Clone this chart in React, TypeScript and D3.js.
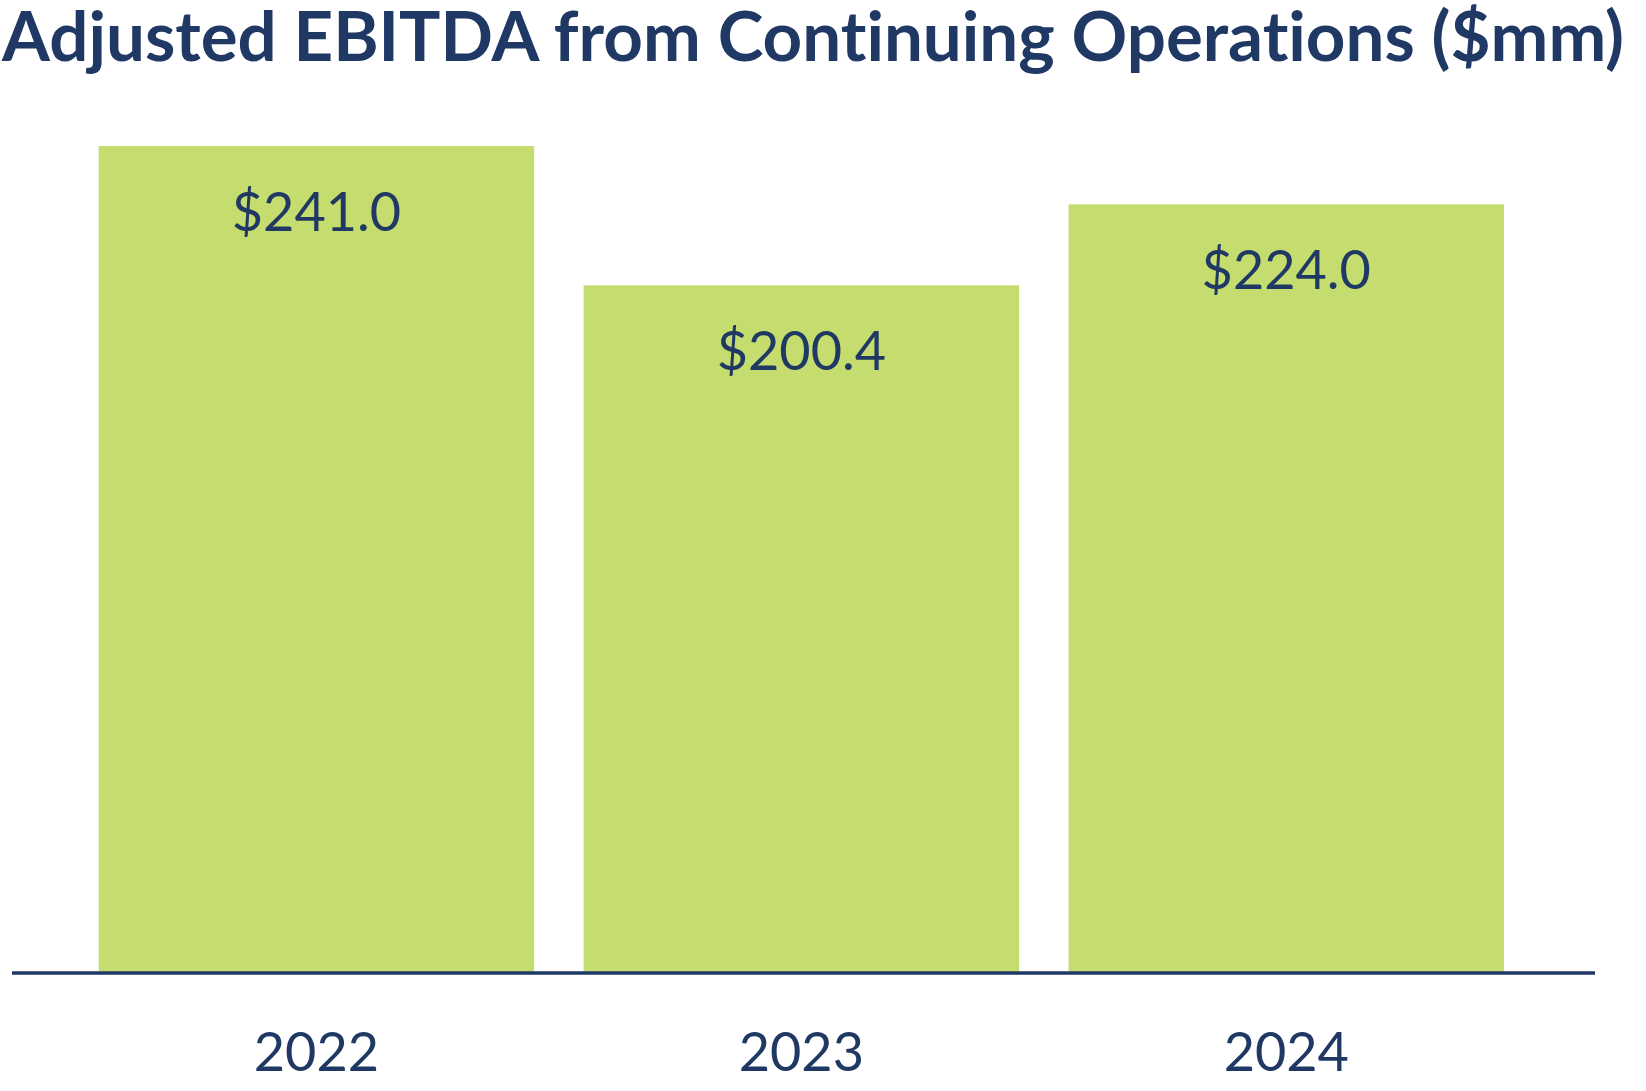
import React, { useEffect, useRef } from 'react';
import * as d3 from 'd3';

const categories = ['2022', '2023', '2024'];
const values = [241.0, 200.4, 224.0];
const valueLabels = ['$241.0', '$200.4', '$224.0'];
const title = 'Adjusted EBITDA from Continuing Operations ($mm)';

const WIDTH = 1646;
const HEIGHT = 1091;
const NAVY = '#1F3864';
const GREEN = '#C5DC6F';
const FONT = 'Lato, "Open Sans", sans-serif';

export default function App() {
  const svgRef = useRef<SVGSVGElement>(null);

  useEffect(() => {
    if (!svgRef.current) return;
    const svg = d3.select(svgRef.current);
    svg.selectAll('*').remove();

    const baseline = 973;

    const x = d3.scaleBand<string>()
      .domain(categories)
      .range([98.7, 1504])
      .paddingInner(0.102)
      .paddingOuter(0);

    const y = d3.scaleLinear()
      .domain([0, 241])
      .range([baseline, 146]);

    // title
    svg.append('text')
      .attr('x', 2)
      .attr('y', 61)
      .attr('textLength', 1622)
      .attr('lengthAdjust', 'spacingAndGlyphs')
      .style('font-family', FONT)
      .style('font-weight', 'bold')
      .style('font-size', '68px')
      .style('font-variant-ligatures', 'none')
      .style('fill', NAVY)
      .text(title);

    // bars
    svg.append('g')
      .selectAll('rect')
      .data(values)
      .join('rect')
      .attr('x', (_, i) => x(categories[i])!)
      .attr('y', d => y(d))
      .attr('width', x.bandwidth())
      .attr('height', d => baseline - y(d))
      .attr('fill', GREEN);

    // value labels inside bars
    svg.append('g')
      .selectAll('text')
      .data(values)
      .join('text')
      .attr('x', (_, i) => x(categories[i])! + x.bandwidth() / 2)
      .attr('y', d => y(d) + 85)
      .attr('text-anchor', 'middle')
      .style('font-family', FONT)
      .style('font-size', '54px')
      .style('fill', NAVY)
      .text((_, i) => valueLabels[i]);

    // x axis line (extends past the bars)
    svg.append('line')
      .attr('x1', 12)
      .attr('x2', 1595)
      .attr('y1', baseline)
      .attr('y2', baseline)
      .attr('stroke', NAVY)
      .attr('stroke-width', 3.5);

    const axis = svg.append('g')
      .attr('transform', `translate(0,${baseline})`)
      .call(d3.axisBottom(x).tickSize(0).tickSizeOuter(0).tickPadding(60));

    axis.select('.domain').remove();

    axis.selectAll('.tick text')
      .style('font-family', FONT)
      .style('font-size', '54px')
      .attr('fill', NAVY);
  }, []);

  return (
    <svg
      ref={svgRef}
      width={WIDTH}
      height={HEIGHT}
      style={{ position: 'absolute', top: 0, left: 0, background: '#fff' }}
    />
  );
}
